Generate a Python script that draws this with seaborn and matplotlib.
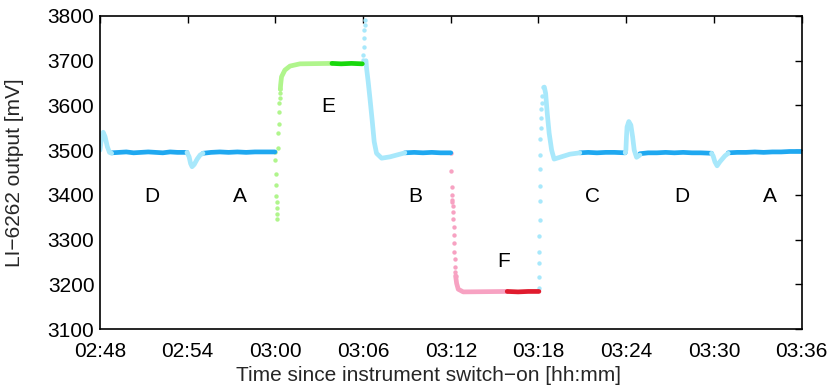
import matplotlib
matplotlib.use("Agg")
import matplotlib.pyplot as plt
import seaborn as sns
import pandas as pd

# ---- data (time in minutes since 02:48, value in mV) ----
tick_minutes = [0, 6, 12, 18, 24, 30, 36, 42, 48]
tick_labels = ["02:48", "02:54", "03:00", "03:06", "03:12", "03:18", "03:24", "03:30", "03:36"]

# light-blue transients (lines)
lb1_t = [0.0, 0.1, 0.22, 0.35, 0.5, 0.65, 0.8]
lb1_v = [3500, 3525, 3540, 3530, 3508, 3495, 3493]
lb2_t = [5.95, 6.1, 6.2, 6.3, 6.45, 6.65, 6.85, 7.05]
lb2_v = [3495, 3485, 3470, 3463, 3468, 3480, 3489, 3493]
lb3_t = [18.2, 18.24, 18.35, 18.47, 18.63, 18.76, 18.92, 19.27, 19.84, 20.75, 20.86]
lb3_v = [3700, 3683, 3653, 3616, 3564, 3519, 3493, 3482, 3485, 3493, 3494]
lb4_t = [30.4, 30.49, 30.6, 30.73, 30.9, 31.07, 31.46, 32.15, 32.83]
lb4_v = [3641, 3627, 3582, 3538, 3500, 3480, 3484, 3491, 3494]
lb5_t = [35.93, 35.98, 36.02, 36.06, 36.18, 36.32, 36.44, 36.55, 36.71, 36.94]
lb5_v = [3494, 3500, 3530, 3552, 3564, 3556, 3530, 3500, 3484, 3489]
lb6_t = [41.84, 41.95, 42.07, 42.22, 42.41, 42.75, 42.98]
lb6_v = [3493, 3487, 3474, 3465, 3474, 3487, 3493]

# light-blue dots (fast jumps)
lbd1_t = [18.0, 18.02, 18.04, 18.06, 18.08, 18.1, 18.12]
lbd1_v = [3702, 3713, 3731, 3750, 3769, 3780, 3791]
lbd2_t = [30.02, 30.03, 30.04, 30.05, 30.06, 30.07, 30.08, 30.09, 30.1,
          30.11, 30.13, 30.15, 30.17, 30.19, 30.21, 30.24, 30.3]
lbd2_v = [3191, 3217, 3248, 3273, 3309, 3344, 3386, 3420, 3458,
          3489, 3524, 3549, 3571, 3591, 3606, 3620, 3641]

# dark-blue steady segments
db1_t = [0.8, 1.3, 1.8, 2.3, 2.8, 3.3, 3.8, 4.3, 4.8, 5.3, 5.95]
db1_v = [3494, 3495, 3496, 3494, 3495, 3496, 3495, 3494, 3496, 3495, 3495]
db2_t = [7.05, 7.6, 8.2, 8.8, 9.4, 10.0, 10.6, 11.2, 11.97]
db2_v = [3493, 3495, 3496, 3495, 3496, 3495, 3496, 3496, 3496]
db3_t = [20.86, 21.5, 22.1, 22.7, 23.3, 24.0]
db3_v = [3494, 3495, 3494, 3495, 3494, 3494]
db4_t = [32.83, 33.4, 34.0, 34.6, 35.2, 35.93]
db4_v = [3494, 3495, 3494, 3495, 3495, 3494]
db5_t = [36.94, 37.5, 38.1, 38.7, 39.3, 39.9, 40.5, 41.1, 41.84]
db5_v = [3492, 3494, 3494, 3495, 3494, 3495, 3494, 3494, 3493]
db6_t = [42.98, 43.6, 44.2, 44.8, 45.4, 46.0, 46.6, 47.2, 48.0]
db6_v = [3494, 3495, 3495, 3496, 3495, 3496, 3496, 3497, 3497]

# span gas E (light green / green)
e_dot_t = [11.97, 12.0, 12.02, 12.04, 12.06, 12.08, 12.1, 12.12, 12.14,
           12.17, 12.2, 12.22, 12.24, 12.27, 12.3, 12.32, 12.34]
e_dot_v = [3495, 3479, 3446, 3421, 3397, 3383, 3370, 3357, 3346,
           3505, 3538, 3558, 3585, 3605, 3616, 3627, 3636]
e_line_t = [12.34, 12.36, 12.42, 12.65, 13.0, 13.68, 15.87]
e_line_v = [3636, 3646, 3664, 3679, 3688, 3693, 3694]
e_flat_t = [15.87, 16.5, 17.2, 17.95]
e_flat_v = [3694, 3693, 3694, 3693]

# span gas F (pink / red)
f_dot_t = [24.0, 24.03, 24.05, 24.07, 24.09, 24.11, 24.13, 24.15, 24.17,
           24.19, 24.21, 24.23, 24.25, 24.27, 24.29, 24.31, 24.33]
f_dot_v = [3493, 3454, 3418, 3400, 3389, 3385, 3374, 3362, 3345,
           3329, 3310, 3292, 3273, 3256, 3239, 3228, 3219]
f_line_t = [24.33, 24.4, 24.51, 24.85, 27.86]
f_line_v = [3219, 3202, 3189, 3183, 3184]
f_flat_t = [27.86, 28.6, 29.3, 30.03]
f_flat_v = [3184, 3183, 3184, 3184]

label_text = ["D", "A", "E", "B", "F", "C", "D", "A"]
label_t = [3.56, 9.58, 15.6, 21.6, 27.6, 33.7, 39.8, 45.8]
label_v = [3396, 3396, 3598, 3396, 3252, 3396, 3396, 3396]

# ---- colours ----
C_LB = "#a8e8fb"
C_DB = "#1fa8f0"
C_LG = "#b0f58c"
C_G = "#18d80c"
C_PK = "#f7a2c2"
C_RD = "#e01b2e"

sns.set_theme(style="white")
plt.rcParams['font.family'] = ['Liberation Sans', 'DejaVu Sans']

fig = plt.figure(figsize=(8.31, 3.92), dpi=100)
ax = fig.add_axes([0.1203, 0.1607, 0.8443, 0.7985])

LW = 3.4
lines = [
    (db1_t, db1_v, C_DB), (db2_t, db2_v, C_DB), (db3_t, db3_v, C_DB),
    (db4_t, db4_v, C_DB), (db5_t, db5_v, C_DB), (db6_t, db6_v, C_DB),
    (lb1_t, lb1_v, C_LB), (lb2_t, lb2_v, C_LB), (lb3_t, lb3_v, C_LB),
    (lb4_t, lb4_v, C_LB), (lb5_t, lb5_v, C_LB), (lb6_t, lb6_v, C_LB),
    (e_line_t, e_line_v, C_LG), (e_flat_t, e_flat_v, C_G),
    (f_line_t, f_line_v, C_PK), (f_flat_t, f_flat_v, C_RD),
]
for t, v, c in lines:
    sns.lineplot(x=t, y=v, color=c, linewidth=LW, sort=False, estimator=None,
                 ax=ax, solid_capstyle="round", solid_joinstyle="round")

dots = [
    (lbd1_t, lbd1_v, C_LB), (lbd2_t, lbd2_v, C_LB),
    (e_dot_t, e_dot_v, C_LG), (f_dot_t, f_dot_v, C_PK),
]
for t, v, c in dots:
    sns.scatterplot(x=t, y=v, color=c, s=10, linewidth=0, ax=ax)

for txt, t, v in zip(label_text, label_t, label_v):
    ax.text(t, v, txt, ha="center", va="center", fontsize=15, color="black")

ax.set_xlim(0, 48)
ax.set_ylim(3100, 3800)
ax.set_xticks(tick_minutes)
ax.set_xticklabels(tick_labels)
ax.set_yticks(list(range(3100, 3801, 100)))
ax.tick_params(direction="in", top=True, right=True, length=5, width=1,
               labelsize=15, colors="black")
ax.tick_params(axis="x", pad=9)
ax.tick_params(axis="y", pad=4)
for s in ax.spines.values():
    s.set_color("black")
    s.set_linewidth(1.2)
ax.set_xlabel("Time since instrument switch\u2212on [hh:mm]", fontsize=15)
ax.set_ylabel("LI\u22126262 output [mV]", fontsize=15)
ax.xaxis.set_label_coords(0.468, -0.118)
ax.yaxis.set_label_coords(-0.108, 0.5)

fig.savefig("out.png", dpi=100)
